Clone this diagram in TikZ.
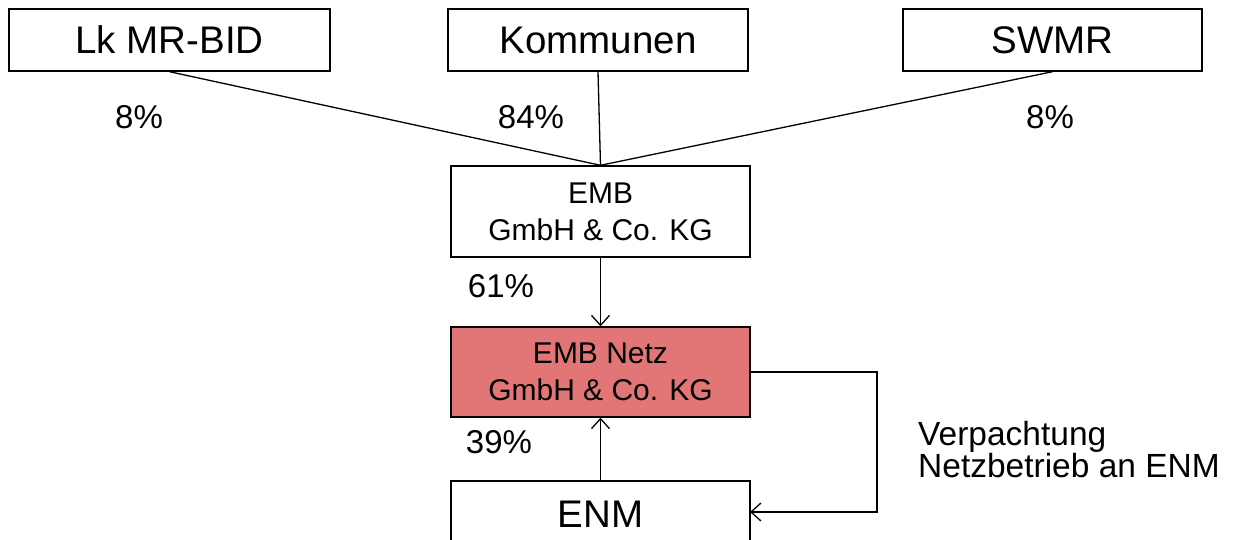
\documentclass[tikz,border=0pt]{standalone}
\usepackage{fontspec}
\setmainfont{Liberation Sans}
\usetikzlibrary{arrows.meta}
\definecolor{netzred}{RGB}{226,118,118}
\tikzset{
  box/.style={draw=black, line width=1.4pt, fill=white, minimum width=299pt, inner sep=0pt, align=center},
  bigtxt/.style={font=\fontsize{38.5}{44}\selectfont},
  midtxt/.style={font=\fontsize{30}{37}\selectfont},
  pct/.style={font=\fontsize{33}{38}\selectfont, anchor=base, inner sep=0pt},
  sidetxt/.style={font=\fontsize{33.5}{33}\selectfont, anchor=base west, inner sep=0pt},
  conn/.style={line width=1.3pt},
  arr/.style={line width=1.3pt, -{Straight Barb[length=10pt,width=18pt,line width=1.3pt]}},
}
\begin{document}
\begin{tikzpicture}[x=1pt,y=-1pt]
\useasboundingbox (0,0) rectangle (1243,540);
\clip (0,0) rectangle (1243,540);
\fill[white] (0,0) rectangle (1243,540);
% top boxes
\node[box, bigtxt, minimum width=321pt, minimum height=62pt] (lk) at (169.5,40) {Lk MR-BID};
\node[box, bigtxt, minimum width=300pt, minimum height=62pt] (kom) at (598,40) {Kommunen};
\node[box, bigtxt, minimum width=299pt, minimum height=62pt] (swmr) at (1052.5,40) {SWMR};
% middle boxes
\node[box, midtxt, minimum height=91pt] (emb) at (600.5,211.5) {EMB\\GmbH \& Co. KG};
\node[box, midtxt, minimum height=90pt, fill=netzred] (netz) at (600.5,372) {EMB Netz\\GmbH \& Co. KG};
\node[box, bigtxt, minimum height=80pt] (enm) at (600.5,521) {};
\node[bigtxt, anchor=base, inner sep=0pt] (enmtxt) at (600.5,527) {ENM};
% connectors
\draw[conn] (lk.south) -- (emb.north);
\draw[conn] (kom.south) -- (emb.north);
\draw[conn] (swmr.south) -- (emb.north);
\draw[arr] (emb.south) -- (netz.north);
\draw[arr] (enm.north) -- (netz.south);
\coordinate (turn) at (877,372);
\coordinate (enmin) at (750,512);
\draw[arr] (netz.east) -- (turn) |- (enmin);
% labels
\node[pct] (p1) at (139,129) {8\%};
\node[pct] (p2) at (531,129) {84\%};
\node[pct] (p3) at (1050,129) {8\%};
\node[pct] (p4) at (501,298) {61\%};
\node[pct] (p5) at (499,453) {39\%};
\node[sidetxt] (verp) at (918,445) {Verpachtung};
\node[sidetxt] (netzb) at (918,477) {Netzbetrieb an ENM};
\end{tikzpicture}
\end{document}
